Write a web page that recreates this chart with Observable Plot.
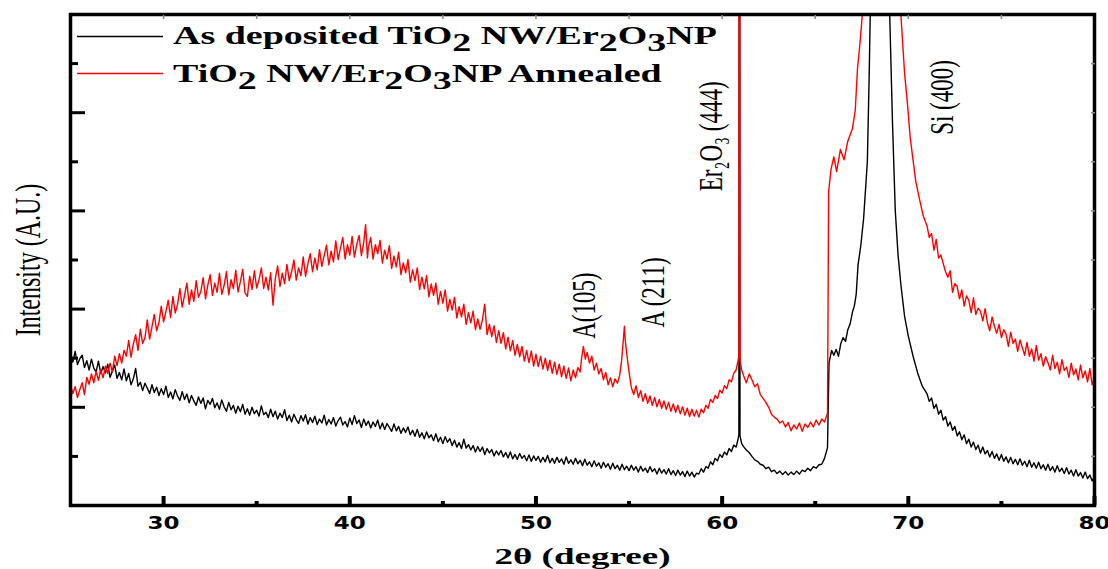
<!DOCTYPE html>
<html><head><meta charset="utf-8">
<script src="https://cdn.jsdelivr.net/npm/d3@7"></script>
<script src="https://cdn.jsdelivr.net/npm/@observablehq/plot@0.6"></script>
<style>
html,body{margin:0;padding:0;background:#fff;}
#wrap{position:relative;width:1108px;height:569px;overflow:hidden;background:#fff;}
#legend{position:absolute;left:0;top:0;width:1108px;height:100px;font-family:"Liberation Serif","Times New Roman",serif;font-weight:bold;font-size:26px;color:#000;}
.row{position:absolute;left:173px;white-space:nowrap;line-height:26px;transform:scaleX(1.46);transform-origin:0 0;}
.sw{position:absolute;left:77px;}
.sub{position:relative;top:7px;}
</style></head><body>
<div id="wrap"><div id="chart"></div><div id="legend"></div></div>
<script>
// ---- data: [2θ (degree), intensity (a.u., 0–100 frame scale)] ----
const asDepositedScan = [
[25.000,30.9],[25.125,29.2],[25.250,31.4],[25.375,28.7],[25.500,29.9],[25.625,30.6],[25.750,28.1],[25.875,29.5],
[26.000,27.6],[26.125,29.8],[26.250,28.0],[26.375,27.2],[26.500,29.4],[26.625,26.9],[26.750,28.3],[26.875,27.0],
[27.000,28.8],[27.125,26.1],[27.250,27.4],[27.375,28.6],[27.500,25.9],[27.625,27.1],[27.750,25.6],[27.875,27.8],
[28.000,25.4],[28.125,26.9],[28.250,24.6],[28.375,25.8],[28.500,27.9],[28.625,24.3],[28.750,25.1],[28.875,23.4],
[29.000,24.9],[29.125,23.9],[29.250,22.8],[29.375,24.6],[29.500,23.0],[29.625,24.1],[29.750,22.4],[29.875,23.8],
[30.000,22.6],[30.125,24.3],[30.250,22.0],[30.375,23.1],[30.500,21.7],[30.625,23.6],[30.750,22.3],[30.875,21.4],
[31.000,23.2],[31.125,21.6],[31.250,22.7],[31.375,20.9],[31.500,22.4],[31.625,21.3],[31.750,20.4],[31.875,22.1],
[32.000,20.8],[32.125,21.9],[32.250,19.7],[32.375,21.4],[32.500,20.6],[32.625,21.8],[32.750,19.9],[32.875,20.9],
[33.000,19.6],[33.125,21.5],[33.250,20.1],[33.375,19.2],[33.500,21.0],[33.625,19.5],[33.750,20.4],[33.875,18.8],
[34.000,20.2],[34.125,19.1],[34.250,20.6],[34.375,18.6],[34.500,19.7],[34.625,18.4],[34.750,20.0],[34.875,18.7],
[35.000,19.4],[35.125,18.2],[35.250,20.3],[35.375,18.5],[35.500,19.0],[35.625,17.9],[35.750,19.6],[35.875,18.1],
[36.000,19.2],[36.125,17.6],[36.250,18.8],[36.375,17.9],[36.500,19.5],[36.625,17.3],[36.750,18.4],[36.875,17.0],
[37.000,18.6],[37.125,17.5],[37.250,16.7],[37.375,18.3],[37.500,17.2],[37.625,18.5],[37.750,16.6],[37.875,17.9],
[38.000,16.9],[38.125,18.2],[38.250,16.5],[38.375,17.6],[38.500,16.8],[38.625,18.4],[38.750,16.4],[38.875,17.5],
[39.000,16.6],[39.125,17.9],[39.250,16.2],[39.375,17.3],[39.500,18.0],[39.625,16.4],[39.750,17.1],[39.875,16.0],
[40.000,17.8],[40.125,16.5],[40.250,18.3],[40.375,16.7],[40.500,17.4],[40.625,15.9],[40.750,17.6],[40.875,16.3],
[41.000,17.2],[41.125,15.8],[41.250,17.0],[41.375,16.1],[41.500,17.4],[41.625,15.6],[41.750,16.8],[41.875,15.5],
[42.000,16.7],[42.125,15.9],[42.250,15.1],[42.375,16.6],[42.500,15.2],[42.625,16.1],[42.750,14.7],[42.875,15.8],
[43.000,14.9],[43.125,16.0],[43.250,14.4],[43.375,15.3],[43.500,14.1],[43.625,15.5],[43.750,13.9],[43.875,14.8],
[44.000,13.6],[44.125,15.0],[44.250,13.8],[44.375,14.4],[44.500,13.2],[44.625,14.6],[44.750,13.0],[44.875,13.9],
[45.000,12.6],[45.125,14.0],[45.250,12.9],[45.375,13.6],[45.500,12.2],[45.625,13.3],[45.750,11.9],[45.875,12.8],
[46.000,11.6],[46.125,13.5],[46.250,11.7],[46.375,12.4],[46.500,11.3],[46.625,12.2],[46.750,10.9],[46.875,12.0],
[47.000,11.0],[47.125,11.9],[47.250,10.4],[47.375,11.6],[47.500,10.7],[47.625,11.4],[47.750,10.1],[47.875,11.1],
[48.000,10.3],[48.125,11.2],[48.250,9.9],[48.375,10.8],[48.500,9.7],[48.625,10.9],[48.750,9.5],[48.875,10.4],
[49.000,9.4],[49.125,10.6],[49.250,9.6],[49.375,10.2],[49.500,9.1],[49.625,10.3],[49.750,9.0],[49.875,10.1],
[50.000,9.2],[50.125,10.0],[50.250,8.8],[50.375,9.8],[50.500,8.9],[50.625,10.2],[50.750,8.7],[50.875,9.6],
[51.000,8.6],[51.125,9.8],[51.250,8.8],[51.375,9.5],[51.500,8.4],[51.625,9.9],[51.750,8.6],[51.875,9.3],
[52.000,8.4],[52.125,9.6],[52.250,8.5],[52.375,9.2],[52.500,8.1],[52.625,9.4],[52.750,8.2],[52.875,8.9],
[53.000,7.9],[53.125,9.1],[53.250,8.0],[53.375,8.7],[53.500,7.6],[53.625,8.8],[53.750,7.8],[53.875,8.5],
[54.000,7.4],[54.125,8.6],[54.250,7.5],[54.375,8.2],[54.500,7.2],[54.625,8.4],[54.750,7.3],[54.875,8.0],
[55.000,7.1],[55.125,8.2],[55.250,7.2],[55.375,7.9],[55.500,6.8],[55.625,8.0],[55.750,7.0],[55.875,7.6],
[56.000,6.7],[56.125,7.9],[56.250,6.9],[56.375,7.5],[56.500,6.4],[56.625,7.6],[56.750,6.6],[56.875,7.3],
[57.000,6.4],[57.125,7.5],[57.250,6.3],[57.375,7.1],[57.500,6.1],[57.625,7.2],[57.750,6.2],[57.875,6.9],
[58.000,5.9],[58.125,7.0],[58.250,6.0],[58.375,6.8],[58.500,5.8],[58.625,6.6],[58.750,6.4],[58.875,7.5],
[59.000,6.8],[59.125,7.9],[59.250,7.6],[59.375,8.9],[59.500,8.3],[59.625,9.6],[59.750,9.1],[59.875,10.4],
[60.000,9.8],[60.125,10.9],[60.250,10.3],[60.375,11.6],[60.500,11.0],[60.625,12.3],[60.750,11.9],[60.860,13.6],
[60.900,14.5],[60.930,220],[60.960,14.2],[61.050,12.6],[61.150,12.0],[61.300,11.3],[61.450,10.8],[61.600,10.0],
[61.750,9.3],[61.900,9.0],[62.050,8.4],[62.200,8.2],[62.350,7.5],[62.500,7.8],[62.650,6.9],[62.800,7.2],
[62.950,6.5],[63.100,7.0],[63.250,6.3],[63.400,6.9],[63.550,6.2],[63.700,6.8],[63.850,6.3],[64.000,7.0],
[64.150,6.4],[64.300,7.2],[64.450,6.9],[64.600,7.6],[64.750,7.1],[64.900,7.9],[65.050,7.6],[65.200,8.3],
[65.350,8.4],[65.500,9.6],[65.660,11.8],[65.740,29.0],[65.880,31.6],[66.000,30.6],[66.125,31.8],[66.250,30.4],
[66.375,33.0],[66.500,34.2],[66.625,33.4],[66.750,35.8],[66.875,37.0],[67.000,39.4],[67.100,40.6],[67.200,43.0],
[67.300,49.0],[67.450,53.0],[67.600,58.5],[67.800,70.0],[67.900,88.0],[68.000,110],[68.200,170],[68.450,250],
[68.700,175],[68.900,120],[69.000,100],[69.150,78],[69.300,60],[69.450,51],[69.600,45],[69.800,38.5],
[70.000,34.5],[70.250,30.5],[70.500,27.0],[70.750,24.3],
[71.000,22.8],[71.125,21.2],[71.250,21.9],[71.375,19.8],[71.500,20.6],[71.625,18.6],[71.750,19.4],[71.875,17.4],
[72.000,18.1],[72.125,16.2],[72.250,17.0],[72.375,15.3],[72.500,16.1],[72.625,14.2],[72.750,15.0],[72.875,13.4],
[73.000,14.4],[73.125,12.6],[73.250,13.5],[73.375,11.9],[73.500,12.9],[73.625,11.4],[73.750,12.3],[73.875,10.7],
[74.000,11.9],[74.125,10.5],[74.250,11.2],[74.375,9.9],[74.500,11.0],[74.625,9.6],[74.750,10.5],[74.875,9.2],
[75.000,10.4],[75.125,9.0],[75.250,9.9],[75.375,8.7],[75.500,9.8],[75.625,8.5],[75.750,9.4],[75.875,8.3],
[76.000,9.5],[76.125,8.2],[76.250,9.0],[76.375,7.9],[76.500,9.2],[76.625,7.8],[76.750,8.7],[76.875,7.6],
[77.000,8.8],[77.125,7.5],[77.250,8.3],[77.375,7.2],[77.500,8.4],[77.625,7.1],[77.750,7.9],[77.875,6.8],
[78.000,8.1],[78.125,6.9],[78.250,7.6],[78.375,6.5],[78.500,7.7],[78.625,6.4],[78.750,7.2],[78.875,6.0],
[79.000,7.3],[79.125,6.0],[79.250,6.7],[79.375,5.6],[79.500,6.8],[79.625,5.5],[79.750,6.2],[79.875,5.0],
[80.000,5.9]
];
const annealedScan = [
[25.000,24.6],[25.125,22.8],[25.250,24.2],[25.375,22.0],[25.500,23.6],[25.625,25.0],[25.750,22.6],[25.875,26.1],
[26.000,24.7],[26.125,26.8],[26.250,25.0],[26.375,27.3],[26.500,25.5],[26.625,27.6],[26.750,26.0],[26.875,28.4],
[27.000,26.9],[27.125,29.0],[27.250,27.2],[27.375,30.4],[27.500,28.5],[27.625,30.9],[27.750,29.0],[27.875,31.6],
[28.000,30.4],[28.125,33.6],[28.250,30.2],[28.375,32.9],[28.500,34.8],[28.625,31.6],[28.750,35.9],[28.875,33.0],
[29.000,34.2],[29.125,37.8],[29.250,33.9],[29.375,36.4],[29.500,38.9],[29.625,35.6],[29.750,37.2],[29.875,40.6],
[30.000,37.4],[30.125,39.5],[30.250,41.8],[30.375,38.3],[30.500,42.6],[30.625,39.2],[30.750,40.9],[30.875,44.2],
[31.000,40.4],[31.125,42.8],[31.250,45.3],[31.375,41.0],[31.500,43.9],[31.625,41.6],[31.750,45.8],[31.875,42.4],
[32.000,43.6],[32.125,46.4],[32.250,42.1],[32.375,44.9],[32.500,47.0],[32.625,42.8],[32.750,45.3],[32.875,43.4],
[33.000,47.3],[33.125,43.0],[33.250,44.8],[33.375,47.6],[33.500,42.9],[33.625,46.0],[33.750,44.2],[33.875,47.9],
[34.000,43.5],[34.125,45.6],[34.250,48.1],[34.375,43.3],[34.500,42.6],[34.625,46.7],[34.750,44.0],[34.875,47.8],
[35.000,44.3],[35.125,46.0],[35.250,48.4],[35.375,44.2],[35.500,46.5],[35.625,43.9],[35.750,47.4],[35.875,40.8],
[36.000,46.2],[36.125,48.8],[36.250,44.6],[36.375,47.3],[36.500,45.2],[36.625,49.1],[36.750,45.8],[36.875,47.6],
[37.000,50.0],[37.125,45.9],[37.250,48.4],[37.375,46.8],[37.500,50.6],[37.625,46.7],[37.750,49.2],[37.875,51.3],
[38.000,47.6],[38.125,50.4],[38.250,48.0],[38.375,52.1],[38.500,48.7],[38.625,50.9],[38.750,53.0],[38.875,49.0],
[39.000,51.8],[39.125,49.6],[39.250,53.9],[39.375,50.1],[39.500,52.4],[39.625,54.6],[39.750,50.2],[39.875,53.1],
[40.000,51.0],[40.125,54.8],[40.250,50.6],[40.375,53.2],[40.500,55.0],[40.625,50.9],[40.750,53.6],[40.850,57.2],
[40.950,50.4],[41.000,52.6],[41.125,54.6],[41.250,50.2],[41.375,53.1],[41.500,51.3],[41.625,54.0],[41.750,49.4],
[41.875,52.0],[42.000,50.2],[42.125,52.9],[42.250,48.3],[42.375,50.8],[42.500,48.6],[42.625,51.6],[42.750,47.0],
[42.875,49.4],[43.000,47.4],[43.125,50.1],[43.250,45.5],[43.375,48.0],[43.500,45.8],[43.625,48.4],[43.750,44.0],
[43.875,46.5],[44.000,44.1],[44.125,46.8],[44.250,42.5],[44.375,45.1],[44.500,42.8],[44.625,45.3],[44.750,41.0],
[44.875,43.6],[45.000,41.2],[45.125,43.9],[45.250,39.6],[45.375,42.0],[45.500,39.8],[45.625,42.4],[45.750,38.2],
[45.875,40.5],[46.000,38.4],[46.125,41.0],[46.250,36.9],[46.375,39.3],[46.500,37.2],[46.625,39.6],[46.750,35.8],
[46.875,38.0],[47.000,35.9],[47.125,37.8],[47.250,41.0],[47.375,34.8],[47.500,36.9],[47.625,34.4],[47.750,36.6],
[47.875,33.2],[48.000,35.6],[48.125,33.0],[48.250,35.2],[48.375,31.9],[48.500,34.3],[48.625,31.5],[48.750,33.6],
[48.875,30.6],[49.000,32.8],[49.125,30.3],[49.250,32.4],[49.375,29.4],[49.500,31.6],[49.625,29.1],[49.750,31.5],
[49.875,28.4],[50.000,30.8],[50.125,28.3],[50.250,30.4],[50.375,27.8],[50.500,30.0],[50.625,27.5],[50.750,29.6],
[50.875,26.9],[51.000,29.2],[51.125,26.7],[51.250,28.8],[51.375,26.2],[51.500,28.4],[51.625,25.9],[51.750,28.0],
[51.875,25.4],[52.000,27.6],[52.125,26.0],[52.250,28.1],[52.375,27.2],[52.450,30.0],[52.550,32.4],[52.650,29.8],
[52.750,31.2],[52.875,29.0],[53.000,30.4],[53.125,27.6],[53.250,29.0],[53.375,26.8],[53.500,27.9],[53.625,25.6],
[53.750,27.1],[53.875,24.6],[54.000,26.0],[54.125,24.2],[54.250,25.8],[54.375,24.9],[54.500,26.6],[54.600,29.5],
[54.700,34.0],[54.750,36.5],[54.800,33.5],[54.900,30.2],[55.000,27.2],[55.125,24.0],[55.250,22.6],[55.375,24.4],
[55.500,22.0],[55.625,23.4],[55.750,21.2],[55.875,22.8],[56.000,20.8],[56.125,22.3],[56.250,20.4],[56.375,22.0],
[56.500,20.1],[56.625,21.6],[56.750,19.8],[56.875,21.3],[57.000,19.6],[57.125,21.0],[57.250,19.2],[57.375,20.7],
[57.500,19.0],[57.625,20.4],[57.750,18.7],[57.875,20.1],[58.000,18.4],[58.125,19.8],[58.250,18.1],[58.375,19.6],
[58.500,18.2],[58.625,19.4],[58.750,18.0],[58.875,19.6],[59.000,18.9],[59.125,20.4],[59.250,19.8],[59.375,21.6],
[59.500,21.0],[59.625,22.4],[59.750,21.8],[59.875,23.5],[60.000,22.9],[60.125,24.4],[60.250,23.8],[60.375,25.6],
[60.500,25.2],[60.625,26.9],[60.750,27.6],[60.860,29.6],[60.900,30.5],[60.930,260],[60.960,29.5],[61.050,27.6],
[61.150,26.5],[61.300,25.0],[61.450,26.8],[61.600,25.6],[61.750,24.2],[61.900,24.8],[62.050,22.6],[62.200,21.8],
[62.350,21.0],[62.500,20.0],[62.650,18.6],[62.800,18.0],[62.950,17.6],[63.100,16.8],[63.250,17.2],[63.400,16.0],
[63.550,16.9],[63.700,15.2],[63.850,16.4],[64.000,15.6],[64.150,16.8],[64.300,15.1],[64.450,16.6],[64.600,15.9],
[64.750,17.0],[64.900,16.0],[65.050,17.4],[65.200,16.4],[65.350,17.6],[65.500,17.0],[65.660,18.8],[65.720,64.0],
[65.850,68.5],[66.000,71.0],[66.150,68.0],[66.350,72.5],[66.550,70.4],[66.750,74.2],[67.000,76.8],[67.150,80.5],
[67.270,89.0],[67.400,94.0],[67.530,100],[67.800,140],[68.100,200],[68.500,270],[68.900,220],[69.200,160],
[69.450,115],[69.600,100],[69.800,88],[69.950,82],[70.100,75],[70.250,70.5],[70.400,66.0],[70.600,62.4],
[70.800,59.0],
[71.000,57.0],[71.125,54.6],[71.250,55.4],[71.375,52.0],[71.500,54.2],[71.625,50.4],[71.750,51.0],[71.875,49.3],
[72.000,47.6],[72.125,46.5],[72.250,47.8],[72.375,43.4],[72.500,45.2],[72.625,44.6],[72.750,42.1],[72.875,43.9],
[73.000,40.6],[73.125,42.7],[73.250,41.8],[73.375,39.3],[73.500,42.3],[73.625,38.9],[73.750,40.2],[73.875,39.6],
[74.000,37.6],[74.125,40.1],[74.250,37.2],[74.375,35.6],[74.500,38.4],[74.625,36.5],[74.750,35.1],[74.875,36.9],
[75.000,34.2],[75.125,35.8],[75.250,34.9],[75.375,32.4],[75.500,35.3],[75.625,33.0],[75.750,33.9],[75.875,31.4],
[76.000,33.7],[76.125,32.1],[76.250,30.6],[76.375,33.2],[76.500,30.4],[76.625,31.9],[76.750,29.4],[76.875,32.6],
[77.000,29.6],[77.125,30.9],[77.250,28.4],[77.375,30.3],[77.500,29.1],[77.625,27.6],[77.750,30.6],[77.875,27.9],
[78.000,29.2],[78.125,26.8],[78.250,29.7],[78.375,27.5],[78.500,28.2],[78.625,26.1],[78.750,29.0],[78.875,26.6],
[79.000,27.8],[79.125,25.6],[79.250,28.6],[79.375,26.0],[79.500,27.4],[79.625,25.2],[79.750,27.9],[79.875,24.6],
[80.000,26.0]
];
const seriesNames = ["As deposited TiO2 NW/Er2O3NP", "TiO2 NW/Er2O3NP Annealed"];
const seriesColors = ["#000000", "#ff0000"];
const peakLabels = ["A(105)", "A (211)", "Er\u2082O\u2083 (444)", "Si (400)"];
const peakTheta = [52.6, 56.26, 59.4, 71.83];
const peakLevel = [40.7, 43.4, 75.2, 83.1];
const xMajorTicks = [30, 40, 50, 60, 70, 80];
const xMinorTicks = [35, 45, 55, 65, 75];
const xTopTicks = [30, 35, 40, 45, 50, 55, 60, 65, 70, 75];
const yMajorTicks = [20, 40, 60, 80];
const yMinorTicks = [10, 30, 50, 70, 90];
const yRightTicks = [10, 20, 30, 40, 50, 60, 70, 80, 90];
const xTitle = "2\u03b8 (degree)";
const yTitle = "Intensity (A.U.)";

// ---- build tables ----
const scans = [asDepositedScan, annealedScan];
const table = scans.flatMap((s, k) => s.map(([t, v]) => ({theta: t, intensity: v, series: seriesNames[k]})));
const peaks = peakLabels.map((l, i) => ({label: l, theta: peakTheta[i], level: peakLevel[i]}));

const serif = "'Liberation Serif','Times New Roman',serif";
const chart = Plot.plot({
  width: 1108, height: 569,
  marginLeft: 70, marginRight: 14, marginTop: 14, marginBottom: 64,
  style: {background: "#fff", color: "#000", fontFamily: serif},
  x: {domain: [25, 80], axis: null, label: null},
  y: {domain: [0, 100], axis: null, label: null},
  color: {domain: seriesNames, range: seriesColors},
  marks: [
    Plot.line(table, {x: "theta", y: "intensity", z: "series", stroke: "series", strokeWidth: 1.4, clip: true}),
    Plot.frame({stroke: "#000", strokeWidth: 3.5}),
    // inward ticks
    Plot.axisX(xMajorTicks, {anchor: "bottom", tickSize: 9, dy: -9, strokeWidth: 4, fill: "none", label: null}),
    Plot.axisX(xMinorTicks, {anchor: "bottom", tickSize: 4, dy: -4, strokeWidth: 4, fill: "none", label: null}),
    Plot.axisX(xTopTicks, {anchor: "top", tickSize: 4, dy: 4, strokeWidth: 1.5, stroke: "#888", fill: "none", label: null}),
    Plot.axisY(yMajorTicks, {anchor: "left", tickSize: 15, dx: 15, strokeWidth: 3, fill: "none", label: null}),
    Plot.axisY(yMinorTicks, {anchor: "left", tickSize: 8, dx: 8, strokeWidth: 3, fill: "none", label: null}),
    Plot.axisY(yRightTicks, {anchor: "right", tickSize: 4, dx: -4, strokeWidth: 1.5, stroke: "#888", fill: "none", label: null}),
    // tick labels
    Plot.axisX(xMajorTicks, {anchor: "bottom", tickSize: 0, tickPadding: 11, fontSize: 17, fontWeight: "bold", fontFamily: "'DejaVu Sans',Verdana,sans-serif", label: null}),
    // axis titles
    Plot.text([xTitle], {text: d => d, frameAnchor: "bottom", dy: 51, textAnchor: "middle", lineAnchor: "middle", fontSize: 24, fontWeight: "bold", fontFamily: serif}),
    Plot.text([yTitle], {text: d => d, frameAnchor: "left", dx: -42, rotate: -90, textAnchor: "middle", lineAnchor: "middle", fontSize: 24, fontFamily: serif}),
    // peak annotations
    Plot.text(peaks, {x: "theta", y: "level", text: "label", rotate: -90, textAnchor: "middle", lineAnchor: "middle", fontSize: 23, fontFamily: serif})
  ]
});
document.getElementById("chart").appendChild(chart);

// typographic adjustments (the reference glyphs are horizontally stretched)
const svg = d3.select(chart);
const tickStrings = xMajorTicks.map(String);
svg.selectAll("text").each(function () {
  const s = this.textContent;
  if (tickStrings.includes(s)) {
    this.setAttribute("textLength", 32);
    this.setAttribute("lengthAdjust", "spacingAndGlyphs");
  } else if (s === xTitle) {
    this.setAttribute("textLength", 176);
    this.setAttribute("lengthAdjust", "spacingAndGlyphs");
  } else if (s === yTitle || peakLabels.includes(s)) {
    const t = this.getAttribute("transform") || "";
    this.setAttribute("transform", t + " scale(1,1.5)");
  }
});

// legend
const legend = document.getElementById("legend");
const swY = [36, 73];
const rowTop = [23, 61];
seriesNames.forEach((name, i) => {
  const sw = d3.create("svg").attr("class", "sw").attr("width", 86).attr("height", 3)
    .style("top", (swY[i] - 1) + "px");
  sw.append("line").attr("x1", 0).attr("x2", 86).attr("y1", 1.5).attr("y2", 1.5)
    .attr("stroke", seriesColors[i]).attr("stroke-width", 1.3);
  legend.appendChild(sw.node());
  const row = document.createElement("div");
  row.className = "row";
  row.style.top = rowTop[i] + "px";
  row.innerHTML = name.replace(/([A-Za-z])(\d)/g, '$1<span class="sub">$2</span>');
  legend.appendChild(row);
});
</script></body></html>
